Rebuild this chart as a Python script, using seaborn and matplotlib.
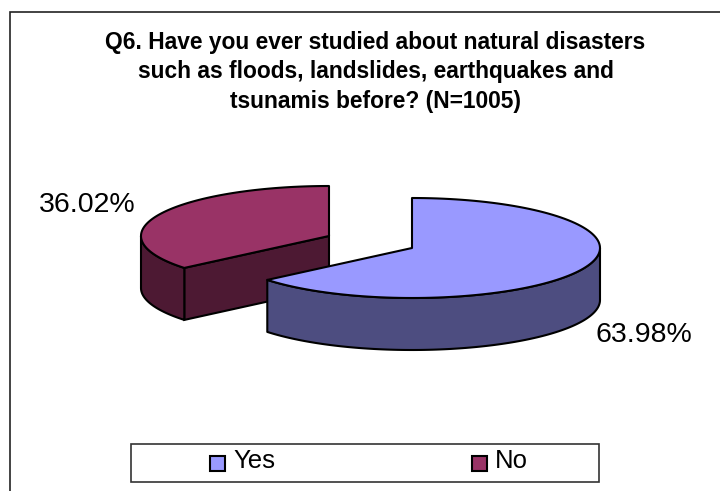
import numpy as np
import matplotlib
matplotlib.use("Agg")
import matplotlib.pyplot as plt
from matplotlib.patches import Polygon, Rectangle
import seaborn as sns

categories = ["Yes", "No"]
percent = [63.98, 36.02]
top_colors = ["#9999ff", "#993366"]
side_colors = ["#4d4d80", "#4d1933"]
title_lines = ["Q6. Have you ever studied about natural disasters",
               "such as floods, landslides, earthquakes and",
               "tsunamis before? (N=1005)"]

sns.set_style("white")
plt.rcParams['font.family'] = ['Liberation Sans', 'DejaVu Sans']

# Pie geometry in pixels, the slices get pulled apart
centers = [(412, 248), (329, 236)]
rx, ry = 188, 50
depth = 52


def rim(cx, cy, a0, a1):
    # angles clockwise from 12 o'clock
    t = np.radians(np.linspace(a0, a1, 120))
    return np.column_stack([cx + rx * np.sin(t), cy - ry * np.cos(t)])


def draw_slice(ax, center, a0, a1, top_col, side_col, z):
    cx, cy = center
    # cut face, only when it turns towards the viewer
    for a, sign in ((a0, -1), (a1, 1)):
        if sign * np.sin(np.radians(a)) > 1e-6:
            p = rim(cx, cy, a, a)[0]
            face = [(cx, cy), p, p + [0, depth], (cx, cy + depth)]
            ax.add_patch(Polygon(face, fc=side_col, ec="black", lw=1.5, zorder=z))
    # outer wall, the part facing the viewer (90..270 deg)
    lo, hi = max(a0, 90), min(a1, 270)
    if hi > lo:
        r = rim(cx, cy, lo, hi)
        wall = np.vstack([r, (r + [0, depth])[::-1]])
        ax.add_patch(Polygon(wall, fc=side_col, ec="black", lw=1.5, joinstyle="round", zorder=z + 1))
    top = np.vstack([[(cx, cy)], rim(cx, cy, a0, a1)])
    ax.add_patch(Polygon(top, fc=top_col, ec="black", lw=1.5, joinstyle="round", zorder=z + 2))


fig, ax = plt.subplots(figsize=(7.2, 4.91), dpi=100)
ax.set_position([0, 0, 1, 1])
ax.set_xlim(0, 720)
ax.set_ylim(491, 0)
ax.axis("off")

# outer chart frame runs off the picture to the right and bottom
ax.add_patch(Rectangle((9.5, 11.5), 760, 540, fc="white", ec="#222222", lw=1.2, zorder=0))

for i, line in enumerate(title_lines):
    ax.text(375.5, 42 + i * 29.5, line, ha="center", va="center", fontsize=16.4, fontweight="bold", color="black")

# No goes first, Yes overlaps it
angles = np.cumsum([0] + percent) / sum(percent) * 360
draw_slice(ax, centers[1], angles[1], angles[2], top_colors[1], side_colors[1], 2)
draw_slice(ax, centers[0], angles[0], angles[1], top_colors[0], side_colors[0], 6)

ax.text(87, 205.5, f"{percent[1]:.2f}%", ha="center", va="center", fontsize=20.5, color="black")
ax.text(644, 335.5, f"{percent[0]:.2f}%", ha="center", va="center", fontsize=20.5, color="black")

# legend box
ax.add_patch(Rectangle((130.5, 443.5), 468, 38.5, fc="white", ec="#333333", lw=1.2, zorder=1))
for name, col, x in zip(categories, top_colors, [210, 472]):
    ax.add_patch(Rectangle((x, 455.5), 14.5, 15, fc=col, ec="black", lw=1.5, zorder=2))
    ax.text(x + 23, 460.5, name, ha="left", va="center", fontsize=18.5, color="black")

fig.savefig("out.png", dpi=100)
